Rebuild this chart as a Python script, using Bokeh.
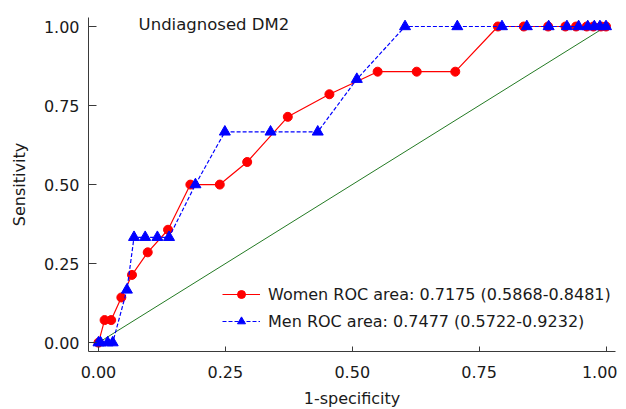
from bokeh.plotting import figure
from bokeh.models import Range1d, FixedTicker, Legend, LegendItem
from bokeh.core.properties import value
from bokeh.embed import file_html
from bokeh.resources import INLINE

# ---- data ----
women_fpr = [0.0, 0.012, 0.025, 0.045, 0.066, 0.097, 0.137, 0.181, 0.239, 0.293,
             0.373, 0.455, 0.550, 0.627, 0.703, 0.787, 0.838, 0.886, 0.920, 0.941,
             0.962, 0.975, 0.990, 1.0]
women_tpr = [0.0, 0.0714, 0.0714, 0.1429, 0.2143, 0.2857, 0.3571, 0.5, 0.5, 0.5714,
             0.7143, 0.7857, 0.8571, 0.8571, 0.8571, 1.0, 1.0, 1.0, 1.0, 1.0,
             1.0, 1.0, 1.0, 1.0]
men_fpr = [0.0, 0.004, 0.018, 0.028, 0.056, 0.070, 0.092, 0.116, 0.139, 0.191,
           0.249, 0.339, 0.432, 0.509, 0.604, 0.707, 0.795, 0.844, 0.887, 0.923,
           0.946, 0.964, 0.977, 0.988, 1.0]
men_tpr = [0.0, 0.0, 0.0, 0.0, 0.1667, 0.3333, 0.3333, 0.3333, 0.3333, 0.5,
           0.6667, 0.6667, 0.6667, 0.8333, 1.0, 1.0, 1.0, 1.0, 1.0, 1.0,
           1.0, 1.0, 1.0, 1.0, 1.0]
ref_x = [0.0, 1.0]
ref_y = [0.0, 1.0]
ticks = [0.0, 0.25, 0.5, 0.75, 1.0]
tick_labels = {0.0: "0.00", 0.25: "0.25", 0.5: "0.50", 0.75: "0.75", 1.0: "1.00"}
title_text = ["Undiagnosed DM2"]
title_x = [0.079]
title_y = [1.006]
women_label = "Women ROC area: 0.7175 (0.5868-0.8481)"
men_label = "Men ROC area: 0.7477 (0.5722-0.9232)"

FONT = "DejaVu Sans"
FS = "16px"

p = figure(frame_width=527, frame_height=334,
           min_border_left=88, min_border_top=17, min_border_right=2, min_border_bottom=50,
           x_range=Range1d(-0.0197, 1.0187), y_range=Range1d(-0.028, 1.0285),
           output_backend="svg", toolbar_location=None)
p.outline_line_color = None
p.xgrid.visible = False
p.ygrid.visible = False
p.background_fill_color = "white"
p.border_fill_color = "white"

for ax, tin, std in ((p.xaxis[0], 5, 14), (p.yaxis[0], 8, 9)):
    ax.ticker = FixedTicker(ticks=ticks)
    ax.major_label_overrides = tick_labels
    ax.major_tick_in = tin
    ax.major_tick_out = 0
    ax.minor_tick_in = 0
    ax.minor_tick_out = 0
    ax.axis_line_color = "#3a3a3a"
    ax.major_tick_line_color = "#3a3a3a"
    ax.major_label_text_font = FONT
    ax.major_label_text_font_size = FS
    ax.major_label_text_color = "#1a1a1a"
    ax.axis_label_text_font = FONT
    ax.axis_label_text_font_size = FS
    ax.axis_label_text_font_style = "normal"
    ax.axis_label_text_color = "#1a1a1a"
    ax.major_label_standoff = std

p.xaxis.axis_label = "1-specificity"
p.yaxis.axis_label = "Sensitivity"
p.xaxis.axis_label_standoff = 8
p.yaxis.axis_label_standoff = 12
p.yaxis.major_label_orientation = "horizontal"

p.line(ref_x, ref_y, line_color="#237a23", line_width=1)

wl = p.line(women_fpr, women_tpr, line_color="red", line_width=1.2)
ws = p.scatter(women_fpr, women_tpr, marker="circle", size=9,
               fill_color="red", line_color="red")
ml = p.line(men_fpr, men_tpr, line_color="blue", line_width=1.2, line_dash="4 2")
ms = p.scatter(men_fpr, men_tpr, marker="triangle", size=11,
               fill_color="blue", line_color="blue")

p.text(x=title_x, y=title_y, text=title_text, text_font=value(FONT),
       text_font_size="16.5px", text_color="#1a1a1a", text_baseline="alphabetic",
       text_align="left")

legend = Legend(items=[LegendItem(label=women_label, renderers=[wl, ws]),
                       LegendItem(label=men_label, renderers=[ml, ms])],
                location=(134, 20), orientation="vertical",
                glyph_width=38, glyph_height=20, label_height=20,
                spacing=7, padding=0, margin=0, label_standoff=8,
                label_text_font=FONT, label_text_font_size="16px",
                label_text_color="#1a1a1a",
                border_line_alpha=0, background_fill_alpha=0)
p.add_layout(legend)

open("out.html", "w").write(file_html(p, INLINE))
